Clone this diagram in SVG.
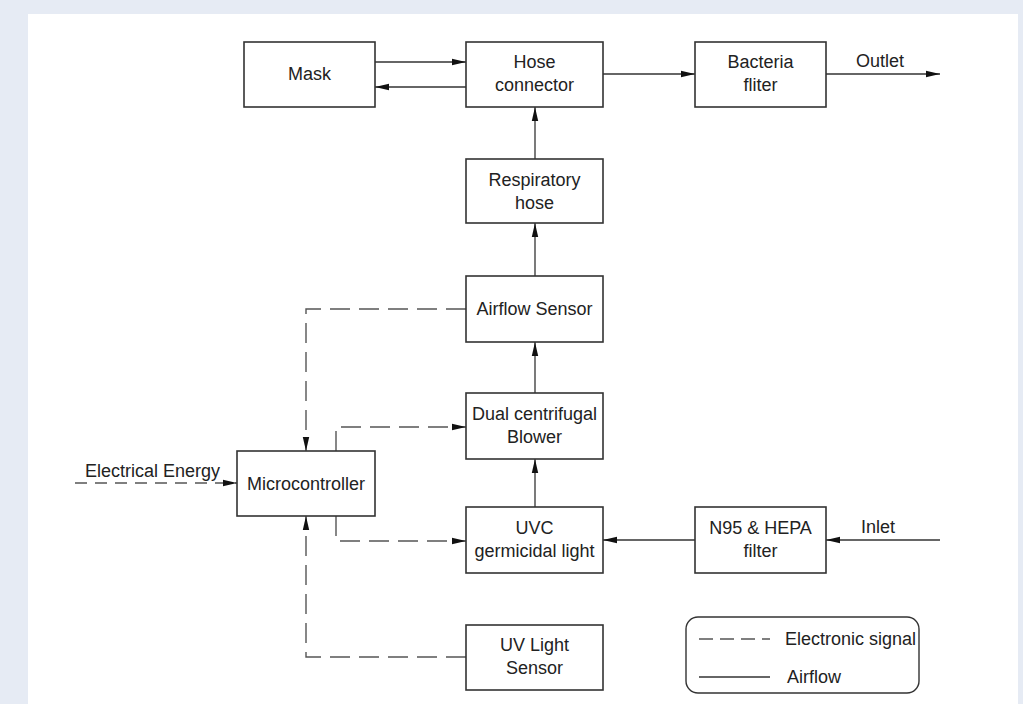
<svg xmlns="http://www.w3.org/2000/svg" width="1023" height="704" viewBox="0 0 1023 704">
<style>
.box{fill:#fff;stroke:#333;stroke-width:1.6}
.t{font-family:"Liberation Sans",Arial,sans-serif;font-size:18px;fill:#222;text-anchor:middle}
.ts{font-family:"Liberation Sans",Arial,sans-serif;font-size:18px;fill:#222}
.air{fill:none;stroke:#333;stroke-width:1.3}
.sig{fill:none;stroke:#555;stroke-width:1.4;stroke-dasharray:20 9}
</style>
<defs>
<marker id="ah" viewBox="0 0 14 8" refX="14" refY="4" markerWidth="14" markerHeight="8" markerUnits="userSpaceOnUse" orient="auto">
<path d="M0,0.8 L14,4 L0,7.2 Z" fill="#111"/>
</marker>
</defs>
<rect width="1023" height="704" fill="#e6ebf4"/>
<rect x="28" y="14" width="990" height="690" fill="#fff"/>

<g id="connectors">
<path class="air" d="M375,62 H466" marker-end="url(#ah)"/>
<path class="air" d="M466,87 H375" marker-end="url(#ah)"/>
<path class="air" d="M603,74 H695" marker-end="url(#ah)"/>
<path class="air" d="M826,74 H940" marker-end="url(#ah)"/>
<path class="air" d="M535,159 V107" marker-end="url(#ah)"/>
<path class="air" d="M535,276 V223" marker-end="url(#ah)"/>
<path class="air" d="M535,393 V342" marker-end="url(#ah)"/>
<path class="air" d="M535,507 V459" marker-end="url(#ah)"/>
<path class="air" d="M695,540 H603" marker-end="url(#ah)"/>
<path class="air" d="M940,540 H826" marker-end="url(#ah)"/>
<path class="sig" d="M466,309 H306 V451" marker-end="url(#ah)"/>
<path class="sig" d="M336,451 V427 H466" marker-end="url(#ah)"/>
<path class="sig" d="M336,516 V541 H466" marker-end="url(#ah)"/>
<path class="sig" d="M466,657 H306 V516" marker-end="url(#ah)"/>
<path class="sig" style="stroke-dasharray:12 8" d="M75,483 H237" marker-end="url(#ah)"/>
<text class="t" x="880" y="67">Outlet</text>
<text class="t" x="878" y="533">Inlet</text>
<text class="ts" x="85" y="477">Electrical Energy</text>
</g>

<g id="mask"><rect class="box" x="244" y="42" width="131" height="65"/><text class="t" x="309.5" y="80">Mask</text></g>
<g id="hose-connector"><rect class="box" x="466" y="42" width="137" height="65"/><text class="t" x="534.5" y="68">Hose</text><text class="t" x="534.5" y="91">connector</text></g>
<g id="bacteria-filter"><rect class="box" x="695" y="42" width="131" height="65"/><text class="t" x="760.5" y="68">Bacteria</text><text class="t" x="760.5" y="91">fliter</text></g>
<g id="respiratory-hose"><rect class="box" x="466" y="159" width="137" height="64"/><text class="t" x="534.5" y="186">Respiratory</text><text class="t" x="534.5" y="209">hose</text></g>
<g id="airflow-sensor"><rect class="box" x="466" y="276" width="137" height="66"/><text class="t" x="534.5" y="315">Airflow Sensor</text></g>
<g id="blower"><rect class="box" x="466" y="393" width="137" height="66"/><text class="t" x="534.5" y="420">Dual centrifugal</text><text class="t" x="534.5" y="443">Blower</text></g>
<g id="microcontroller"><rect class="box" x="237" y="451" width="138" height="65"/><text class="t" x="306" y="490">Microcontroller</text></g>
<g id="uvc-light"><rect class="box" x="466" y="507" width="137" height="66"/><text class="t" x="534.5" y="534">UVC</text><text class="t" x="534.5" y="557">germicidal light</text></g>
<g id="n95-filter"><rect class="box" x="695" y="507" width="131" height="66"/><text class="t" x="760.5" y="534">N95 &amp; HEPA</text><text class="t" x="760.5" y="557">filter</text></g>
<g id="uv-sensor"><rect class="box" x="466" y="625" width="137" height="65"/><text class="t" x="534.5" y="651">UV Light</text><text class="t" x="534.5" y="674">Sensor</text></g>

<g id="legend">
<rect x="686" y="617" width="233" height="76" rx="12" ry="12" fill="#fff" stroke="#333" stroke-width="1.4"/>
<path class="sig" style="stroke-dasharray:14 7" d="M699,639 H770"/>
<path class="air" d="M699,677 H770"/>
<text class="ts" x="785" y="645">Electronic signal</text>
<text class="ts" x="787" y="683">Airflow</text>
</g>
</svg>
